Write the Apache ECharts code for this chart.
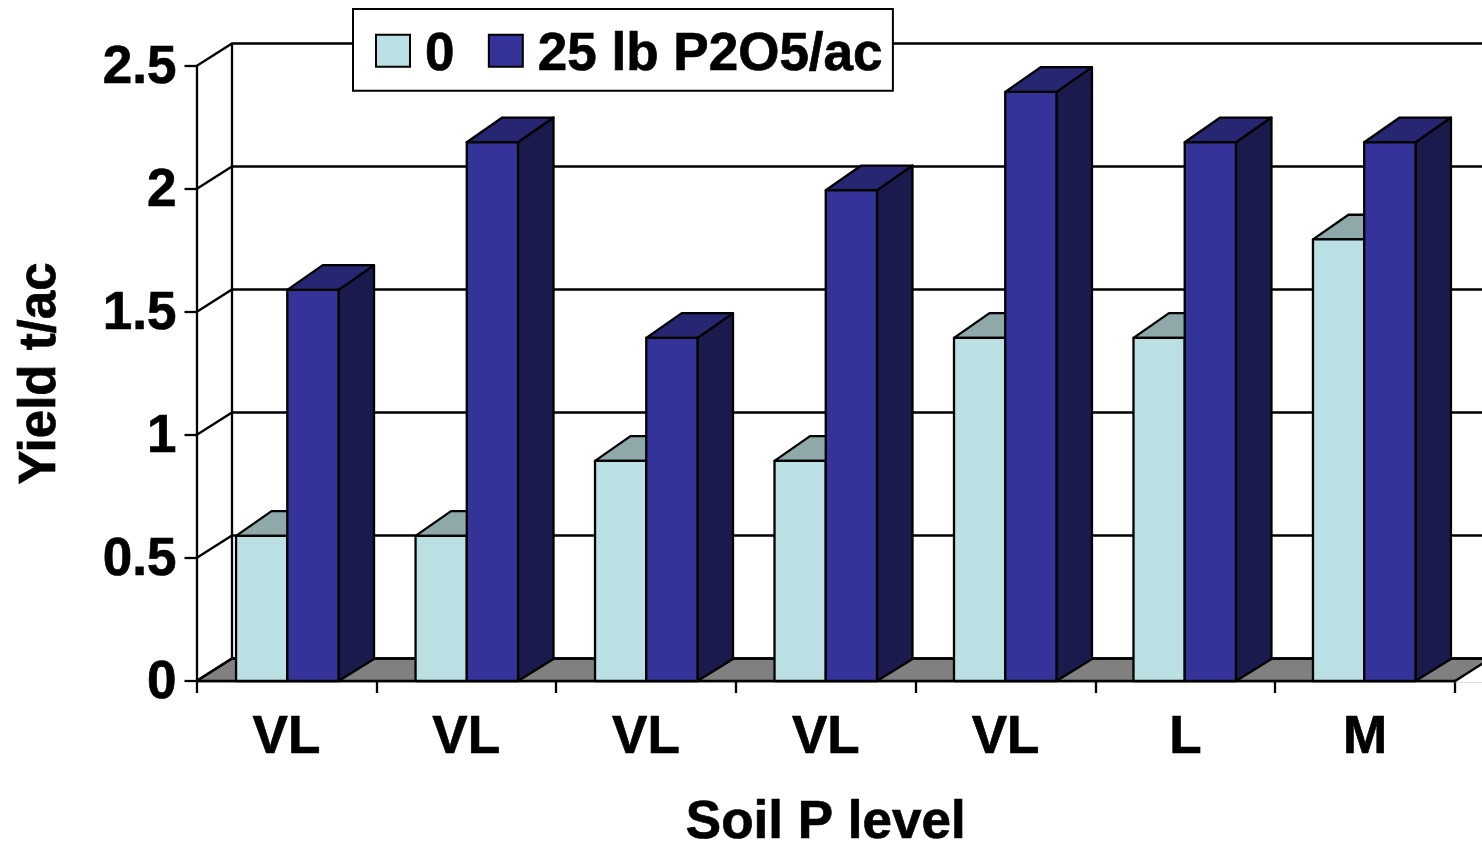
<!DOCTYPE html>
<html>
<head>
<meta charset="utf-8">
<style>html,body{margin:0;padding:0;background:#fff;overflow:hidden}#c{width:1482px;height:842px}</style>
<script src="https://cdn.jsdelivr.net/npm/echarts@6/dist/echarts.min.js"></script>
</head>
<body>
<div id="c"></div>
<script>
const categories = ['VL','VL','VL','VL','VL','L','M'];
const seriesNames = ['0','25 lb P2O5/ac'];
const noP = [0.59,0.59,0.895,0.895,1.395,1.395,1.795];
const withP = [1.59,2.19,1.395,1.995,2.395,2.19,2.19];
const gridValues = [0,0.5,1,1.5,2,2.5];
const FONT = '"Liberation Sans", Arial, sans-serif';
const DX = 35.5, DY_WALL = 22.5, DY_TOP = 24.7, DY_BOT = 22;
const LW = 2.3;
const bold = {fontFamily:FONT, fontWeight:'bold', color:'#000', textBorderColor:'#000', textBorderWidth:0.7};

const pts = (p, fill) => ({type:'polygon', shape:{points:p},
  style:{fill, stroke:'#000', lineWidth:LW, lineJoin:'round'}});

function wallItem(params, api){
  const cs = params.coordSys, v = api.value(1);
  const y = api.coord([0, v])[1], x0 = cs.x, x1 = cs.x + cs.width + 60;
  const children = [];
  if (v === 0) {
    children.push(pts([[x0,y],[x0+DX,y-DY_WALL],[x1+DX,y-DY_WALL],[x1,y]], '#808080'));
    const xe = cs.x + cs.width;
    children.push({type:'polygon', shape:{points:[[xe,y+1.5],[xe+DX,y-DY_WALL],[xe+DX+80,y-DY_WALL],[xe+80,y+1.5]]},
      style:{fill:'#fff'}});
    children.push({type:'line', shape:{x1:xe,y1:y,x2:xe+DX,y2:y-DY_WALL}, style:{stroke:'#000', lineWidth:LW}});
  }
  children.push({type:'polyline', shape:{points:[[x0,y],[x0+DX,y-DY_WALL],[x1+DX,y-DY_WALL]]},
    style:{fill:'none', stroke:'#000', lineWidth:LW}});
  if (v === gridValues[gridValues.length-1]) {
    const yb = api.coord([0,0])[1];
    children.push({type:'line', shape:{x1:x0+DX,y1:y-DY_WALL,x2:x0+DX,y2:yb-DY_WALL},
      style:{stroke:'#000', lineWidth:LW}});
  }
  return {type:'group', children};
}

function barRenderer(slot, front, top, side){
  return function(params, api){
    const c = api.coord([api.value(0), api.value(1)]);
    const base = api.coord([api.value(0), 0])[1];
    const band = api.size([1,0])[0];
    const w = band * 0.285;
    const xl = c[0] + band*0.005 - params.dataIndex*0.3 + (slot-1)*w, xr = xl + w, y = c[1];
    return {type:'group', children:[
      pts([[xr,y],[xr+DX,y-DY_TOP],[xr+DX,base-DY_BOT],[xr,base]], side),
      pts([[xl,y],[xl+DX,y-DY_TOP],[xr+DX,y-DY_TOP],[xr,y]], top),
      pts([[xl,y],[xr,y],[xr,base],[xl,base]], front)
    ]};
  };
}
const toData = arr => arr.map((v,i)=>[i,v]);

const chart = echarts.init(document.getElementById('c'), null, {renderer:'canvas'});
chart.setOption({
  animation:false,
  backgroundColor:'#fff',
  textStyle:{fontFamily:FONT},
  grid:{left:196.5, right:27, top:66, bottom:161, containLabel:false, outerBoundsMode:'none'},
  legend:{
    data:seriesNames, left:353, top:9, orient:'horizontal', icon:'rect',
    backgroundColor:'#fff', borderColor:'#000', borderWidth:2, borderRadius:0,
    padding:[20,10,8,22], itemWidth:34, itemHeight:32, itemGap:33,
    selectedMode:false, z:10,
    formatter: name => '{t|' + name + '}',
    textStyle:Object.assign({}, bold, {fontSize:53,
      rich:{t:Object.assign({}, bold, {fontSize:53, padding:[10,0,0,10]})}})
  },
  xAxis:{
    type:'category', data:categories, boundaryGap:true,
    name:'Soil P level', nameLocation:'middle', nameGap:116,
    nameTextStyle:Object.assign({}, bold, {fontSize:53}),
    axisLine:{lineStyle:{color:'#000', width:LW}},
    axisTick:{show:true, length:12, lineStyle:{color:'#000', width:LW}},
    axisLabel:Object.assign({}, bold, {interval:0, margin:31, fontSize:53}),
    splitLine:{show:false}
  },
  yAxis:{
    type:'value', min:0, max:2.5, interval:0.5,
    name:'Yield t/ac', nameLocation:'middle', nameGap:130, nameRotate:90,
    nameTextStyle:Object.assign({}, bold, {fontSize:51}),
    axisLine:{show:true, lineStyle:{color:'#000', width:LW}},
    axisTick:{show:true, length:12, lineStyle:{color:'#000', width:LW}},
    axisLabel:Object.assign({}, bold, {margin:20, fontSize:53,
      formatter: v => '{t|' + v + '}',
      rich:{t:Object.assign({}, bold, {fontSize:53, padding:[4,0,0,0]})}}),
    splitLine:{show:false}
  },
  series:[
    {type:'custom', name:'walls', silent:true, clip:false, z:1,
     data:gridValues.map(v=>[0,v]), encode:{x:0,y:1}, renderItem:wallItem},
    {type:'custom', name:seriesNames[0], clip:false, z:2,
     itemStyle:{color:'#BAE0E3', borderColor:'#000', borderWidth:LW},
     data:toData(noP), encode:{x:0,y:1},
     renderItem:barRenderer(0,'#BAE0E3','#8FA8AA','#7F9B9E')},
    {type:'custom', name:seriesNames[1], clip:false, z:3,
     itemStyle:{color:'#333399', borderColor:'#000', borderWidth:LW},
     data:toData(withP), encode:{x:0,y:1},
     renderItem:barRenderer(1,'#333399','#262673','#1A1A4D')}
  ]
});
</script>
</body>
</html>
